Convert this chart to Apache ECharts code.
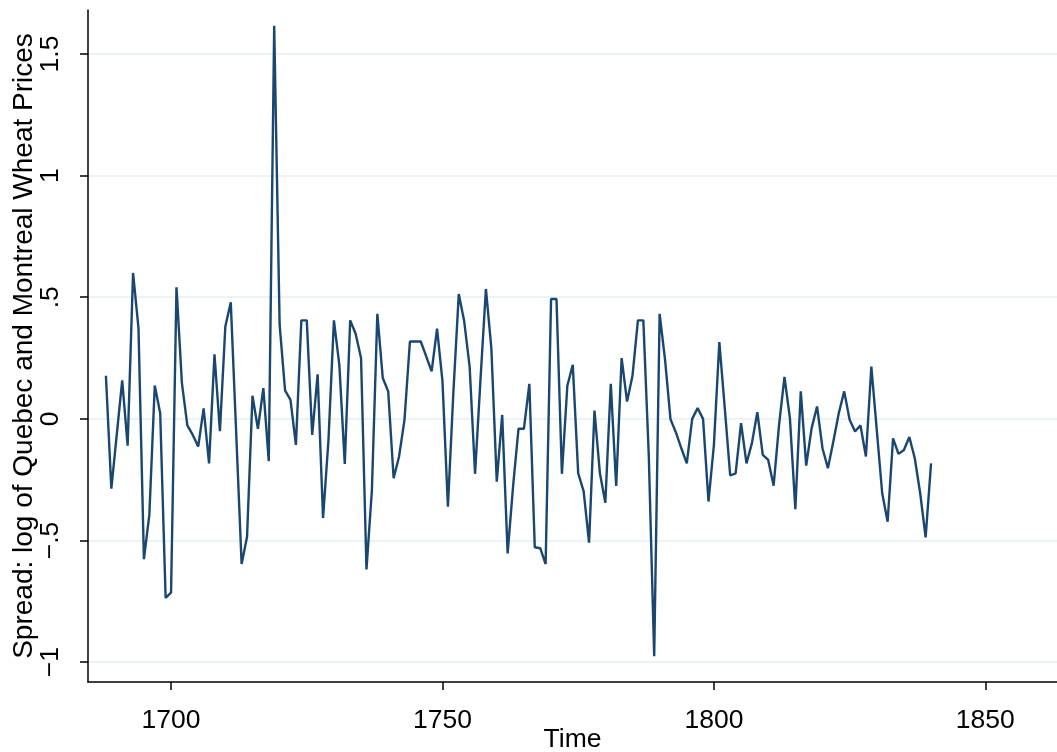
<!DOCTYPE html>
<html>
<head>
<meta charset="utf-8">
<script src="https://cdn.jsdelivr.net/npm/echarts@6/dist/echarts.min.js"></script>
<style>
html,body{margin:0;padding:0;background:#fff;}
#chart{width:1057px;height:752px;}
</style>
</head>
<body>
<div id="chart"></div>
<script>
// Years (x) and spread values (y)
var years = [1688,1689,1691,1692,1693,1694,1695,1696,1697,1698,1699,1700,1701,1702,1703,1704,1705,1706,1707,1708,1709,1710,1711,
1713,1714,1715,1716,1717,1718,1719,1720,1721,1722,1723,1724,1725,1726,1727,1728,1729,1730,1731,1732,1733,1734,1735,1736,1737,1738,1739,1740,
1741,1742,1743,1744,1745,1746,1747,1748,1749,1750,1751,1752,1753,1754,1755,1756,1757,1758,1759,1760,
1761,1762,1763,1764,1765,1766,1767,1768,1769,1770,1771,1772,1773,1774,1775,1776,1777,1778,1779,1780,
1781,1782,1783,1784,1785,1786,1787,1788,1789,1790,1791,1792,1793,1794,1795,1796,1797,1798,1799,1800,
1801,1802,1803,1804,1805,1806,1807,1808,1809,1810,1811,1812,1813,1814,1815,1816,1817,1818,1819,1820,
1821,1822,1823,1824,1825,1826,1827,1828,1829,1831,1832,1833,1834,1835,1836,1837,1838,1839,1840];
var spread = [0.177,-0.287,0.158,-0.11,0.60,0.373,-0.577,-0.395,0.137,0.023,-0.736,-0.715,0.541,0.147,-0.027,-0.066,-0.114,0.043,-0.183,0.265,-0.051,0.38,0.479,
-0.597,-0.485,0.095,-0.041,0.126,-0.174,1.616,0.387,0.117,0.078,-0.107,0.405,0.405,-0.066,0.183,-0.408,-0.086,0.405,0.222,-0.185,0.405,0.35,0.25,-0.619,-0.292,0.432,0.168,0.113,
-0.244,-0.155,-0.004,0.318,0.318,0.318,0.257,0.195,0.371,0.154,-0.361,0.106,0.513,0.401,0.215,-0.226,0.161,0.534,0.291,-0.258,
0.016,-0.553,-0.279,-0.041,-0.041,0.144,-0.528,-0.532,-0.597,0.493,0.493,-0.226,0.136,0.222,-0.224,-0.297,-0.509,0.034,-0.224,-0.345,
0.144,-0.276,0.25,0.071,0.177,0.405,0.405,-0.15,-0.976,0.432,0.243,-0.001,-0.056,-0.121,-0.183,0.0,0.044,0.0,-0.34,-0.107,
0.316,0.044,-0.233,-0.224,-0.018,-0.183,-0.1,0.027,-0.148,-0.169,-0.275,-0.025,0.172,0.003,-0.371,0.113,-0.192,-0.038,0.051,-0.121,
-0.203,-0.093,0.023,0.113,-0.004,-0.052,-0.027,-0.155,0.215,-0.306,-0.423,-0.08,-0.144,-0.128,-0.075,-0.162,-0.306,-0.487,-0.183];

var xTickValues = [1700,1750,1800,1850];
var xTickLabels = ['1700','1750','1800','1850'];
var yTickValues = [-1,-0.5,0,0.5,1,1.5];
var yTickLabels = ['\u22121','\u2212.5','0','.5','1','1.5'];

var xTitle = 'Time';
var yTitle = 'Spread: log of Quebec and Montreal Wheat Prices';

var pts = years.map(function(y,i){return [y, spread[i]];});
var FONT = 'Liberation Sans';

var chart = echarts.init(document.getElementById('chart'), null, {renderer:'canvas'});
chart.setOption({
  animation:false,
  backgroundColor:'#ffffff',
  grid:{left:88, right:0, top:10, bottom:70, containLabel:false, outerBoundsMode:'none'},
  xAxis:{
    type:'value', min:1684.7, max:1863.2,
    name:xTitle, nameLocation:'middle', nameGap:44, nameMoveOverlap:false,
    nameTextStyle:{fontFamily:FONT, fontSize:26.5, color:'#000'},
    axisLine:{show:true, onZero:false, lineStyle:{color:'#000', width:1.5}},
    axisTick:{show:true, length:8, lineStyle:{color:'#000', width:1.5}, customValues:xTickValues},
    axisLabel:{fontFamily:FONT, fontSize:26.5, color:'#000', margin:25, customValues:xTickValues,
      formatter:function(v){var i=xTickValues.indexOf(v); return i>=0?xTickLabels[i]:'';}},
    splitLine:{show:false}
  },
  yAxis:{
    type:'value', min:-1.082, max:1.681,
    name:yTitle, nameLocation:'middle', nameGap:50, nameMoveOverlap:false,
    nameTextStyle:{fontFamily:FONT, fontSize:28, color:'#000'},
    axisLine:{show:true, onZero:false, lineStyle:{color:'#000', width:1.5}},
    axisTick:{show:true, length:8, lineStyle:{color:'#000', width:1.5}, customValues:yTickValues},
    axisLabel:{fontFamily:FONT, fontSize:26.5, color:'#000', margin:24, rotate:90, customValues:yTickValues,
      formatter:function(v){var i=yTickValues.indexOf(v); return i>=0?yTickLabels[i]:'';}},
    splitLine:{show:true, lineStyle:{color:'#e6eff1', width:1.5}}
  },
  series:[{
    type:'line', data:pts, showSymbol:false, symbol:'none',
    lineStyle:{color:'#1a476f', width:2.4}, itemStyle:{color:'#1a476f'}
  }]
});
</script>
</body>
</html>
